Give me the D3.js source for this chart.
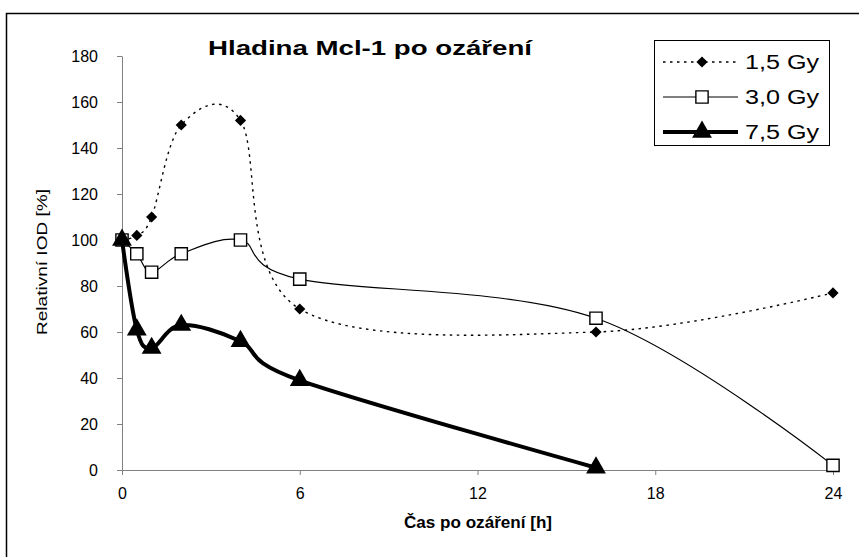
<!DOCTYPE html>
<html>
<head>
<meta charset="utf-8">
<script src="https://cdn.jsdelivr.net/npm/d3@7"></script>
<style>
  body { margin: 0; background: #fff; }
  svg text { font-family: Arial, "Liberation Sans", sans-serif; fill: #000; }
</style>
</head>
<body>
<div id="chart"></div>
<script>
// values
let hours = [0, 0.5, 1, 2, 4, 6, 16, 24]
let gy15 = [100, 102, 110, 150, 152, 70, 60, 77]
let gy30 = [100, 94, 86, 94, 100, 83, 66, 2]
let gy75 = [100, 61, 53, 63, 56, 39, 1]
let xTicks = [0, 6, 12, 18, 24]
let yTicks = [0, 20, 40, 60, 80, 100, 120, 140, 160, 180]
let seriesNames = ["1,5 Gy", "3,0 Gy", "7,5 Gy"]

let width = 859
let height = 557

let svg = d3.select("#chart")
    .append("svg")
    .attr("width", width)
    .attr("height", height)

// outer chart frame
svg.append("rect")
    .attr("x", 6.5)
    .attr("y", 13.5)
    .attr("width", width)
    .attr("height", height)
    .attr("fill", "none")
    .attr("stroke", "#000")
    .attr("stroke-width", 1.5)

let x = d3.scaleLinear().domain([0, 24]).range([122, 833])
let y = d3.scaleLinear().domain([0, 180]).range([470, 56])

let yAxis = svg.append("g")
    .attr("transform", "translate(122,0)")
    .call(d3.axisLeft(y).tickValues(yTicks).tickSize(5).tickSizeOuter(0).tickPadding(19))
let xAxis = svg.append("g")
    .attr("transform", "translate(0,470)")
    .call(d3.axisBottom(x).tickValues(xTicks).tickSize(5).tickSizeOuter(0).tickPadding(13))

;[xAxis, yAxis].forEach(a => {
    a.select(".domain").attr("stroke", "#808080")
    a.selectAll(".tick line").attr("stroke", "#808080")
    a.selectAll("text")
        .style("font-family", "Arial, 'Liberation Sans', sans-serif")
        .style("font-size", "16px")
        .attr("fill", "#000")
})

svg.append("text")
    .attr("x", 370)
    .attr("y", 55)
    .style("text-anchor", "middle")
    .style("font-size", "20px")
    .style("font-weight", "bold")
    .attr("textLength", 324)
    .attr("lengthAdjust", "spacingAndGlyphs")
    .text("Hladina Mcl-1 po ozáření")

svg.append("text")
    .attr("transform", "translate(47,262) rotate(-90)")
    .style("text-anchor", "middle")
    .style("font-size", "15px")
    .attr("textLength", 146)
    .attr("lengthAdjust", "spacingAndGlyphs")
    .text("Relativní IOD [%]")

svg.append("text")
    .attr("x", 478)
    .attr("y", 528)
    .style("text-anchor", "middle")
    .style("font-size", "16px")
    .style("font-weight", "bold")
    .attr("textLength", 148)
    .attr("lengthAdjust", "spacingAndGlyphs")
    .text("Čas po ozáření [h]")

let curve = d3.curveCatmullRom.alpha(0)

function drawSeries(values, opts) {
    let pts = values.map((v, i) => [hours[i], v])
    let line = d3.line()
        .x(d => x(d[0]))
        .y(d => y(d[1]))
        .curve(curve)
    svg.append("path")
        .datum(pts)
        .attr("d", line)
        .attr("fill", "none")
        .attr("stroke", "#000")
        .attr("stroke-width", opts.width)
        .attr("stroke-dasharray", opts.dash)
        .attr("stroke-linejoin", "round")
    svg.selectAll(null)
        .data(pts)
        .enter()
        .append("path")
        .attr("transform", d => `translate(${x(d[0])},${y(d[1])})`)
        .attr("d", d3.symbol().type(opts.symbol).size(opts.size))
        .attr("fill", opts.fill)
        .attr("stroke", "#000")
        .attr("stroke-width", opts.strokeW)
}

let styles = [
    { width: 1.4, dash: "2.5,4.5", symbol: d3.symbolDiamond2, size: 80, fill: "#000", strokeW: 0 },
    { width: 1.2, dash: null, symbol: d3.symbolSquare, size: 150, fill: "#fff", strokeW: 1.4 },
    { width: 4, dash: null, symbol: d3.symbolTriangle, size: 170, fill: "#000", strokeW: 0 }
]

drawSeries(gy15, styles[0])
drawSeries(gy30, styles[1])
drawSeries(gy75, styles[2])

// legend
let legend = svg.append("g")
legend.append("rect")
    .attr("x", 654.5)
    .attr("y", 40.5)
    .attr("width", 175)
    .attr("height", 105)
    .attr("fill", "#fff")
    .attr("stroke", "#000")
    .attr("stroke-width", 1)

let legendY = [62, 97, 132]
seriesNames.forEach((name, i) => {
    let s = styles[i]
    legend.append("line")
        .attr("x1", 663).attr("x2", 738)
        .attr("y1", legendY[i]).attr("y2", legendY[i])
        .attr("stroke", "#000")
        .attr("stroke-width", s.width)
        .attr("stroke-dasharray", s.dash)
    legend.append("path")
        .attr("transform", `translate(702,${legendY[i]})`)
        .attr("d", d3.symbol().type(s.symbol).size(s.size))
        .attr("fill", s.fill)
        .attr("stroke", "#000")
        .attr("stroke-width", s.strokeW)
    legend.append("text")
        .attr("x", 745)
        .attr("y", legendY[i] + 7)
        .style("font-size", "20px")
        .attr("textLength", 74)
        .attr("lengthAdjust", "spacingAndGlyphs")
        .text(name)
})
</script>
</body>
</html>
